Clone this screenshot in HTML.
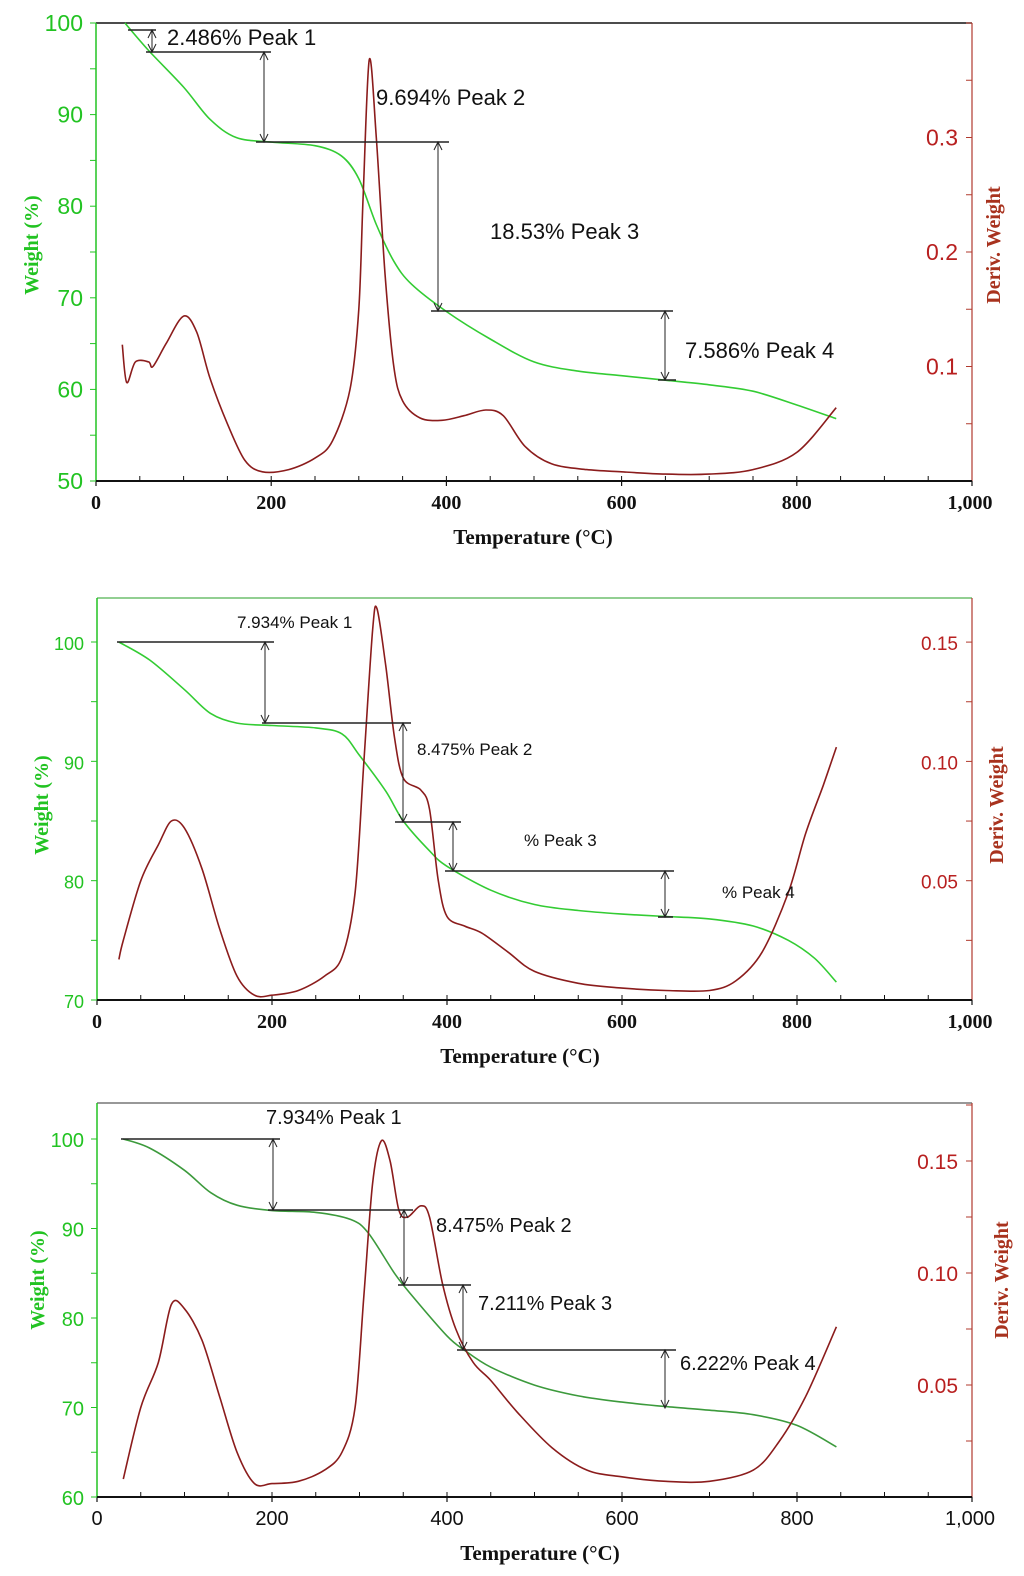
<!DOCTYPE html>
<html><head><meta charset="utf-8"><style>
html,body{margin:0;padding:0;background:#fff;}
svg{display:block;}
</style></head><body>
<svg id="fig" width="1024" height="1576" viewBox="0 0 1024 1576" xmlns="http://www.w3.org/2000/svg"></svg>
<script>
// ---------- Chart 1 data ----------
const c1TempW = [33,60,100,130,160,200,250,280,300,320,340,360,400,450,500,550,600,650,700,750,800,845];
const c1Weight = [100,97,93,89.5,87.5,87,86.6,85.5,83,78,74,71.5,68.5,65.5,63,62,61.5,61,60.5,59.8,58.3,56.8];
const c1TempD = [30,35,45,60,65,80,100,115,130,150,170,190,220,250,270,290,300,305,312,320,330,340,350,370,395,420,445,465,490,520,560,600,650,700,750,800,845];
const c1Deriv = [0.119,0.086,0.104,0.104,0.1,0.12,0.144,0.13,0.09,0.05,0.018,0.008,0.01,0.02,0.035,0.08,0.15,0.25,0.368,0.3,0.18,0.1,0.07,0.055,0.053,0.057,0.062,0.057,0.03,0.015,0.01,0.008,0.006,0.006,0.01,0.025,0.064];
const c1LeftTicks = [50,60,70,80,90,100];
const c1RightTicks = [0.1,0.2,0.3];
const c1RightLabels = ["0.1","0.2","0.3"];
// ---------- Chart 2 data ----------
const c2TempW = [25,60,100,130,160,200,250,280,300,330,350,380,400,450,500,550,600,650,700,750,790,820,845];
const c2Weight = [100,98.5,96,94,93.2,93,92.8,92.3,90.5,87.5,85,82.5,81.2,79.2,78,77.5,77.2,77,76.8,76.2,75,73.5,71.5];
const c2TempD = [25,30,50,70,85,100,120,140,160,180,200,230,260,280,295,305,315,320,330,340,350,370,380,390,400,420,440,470,500,550,600,650,700,730,760,790,810,830,845];
const c2Deriv = [0.017,0.025,0.05,0.065,0.075,0.072,0.055,0.03,0.01,0.002,0.002,0.004,0.01,0.018,0.045,0.1,0.155,0.164,0.14,0.11,0.093,0.088,0.08,0.05,0.035,0.031,0.028,0.02,0.012,0.007,0.005,0.004,0.004,0.008,0.02,0.045,0.07,0.09,0.106];
const c2LeftTicks = [70,80,90,100];
const c2RightTicks = [0.05,0.10,0.15];
const c2RightLabels = ["0.05","0.10","0.15"];
// ---------- Chart 3 data ----------
const c3TempW = [30,60,100,130,160,200,250,290,310,340,360,400,420,450,500,550,600,650,700,750,800,845];
const c3Weight = [100,99,96.5,94,92.6,92,91.8,91,89.5,85,82.5,78,76.4,74.5,72.5,71.3,70.6,70.1,69.7,69.2,68,65.6];
const c3TempD = [30,50,70,85,100,120,140,160,180,200,230,260,280,295,305,315,325,335,345,355,370,380,395,410,430,450,480,520,560,600,650,700,750,780,810,845];
const c3Deriv = [0.008,0.04,0.06,0.086,0.084,0.07,0.045,0.02,0.006,0.006,0.007,0.012,0.02,0.04,0.09,0.14,0.159,0.15,0.128,0.125,0.13,0.125,0.095,0.075,0.06,0.052,0.038,0.022,0.012,0.009,0.007,0.007,0.012,0.025,0.045,0.076];
const c3LeftTicks = [60,70,80,90,100];
const c3RightTicks = [0.05,0.10,0.15];
const c3RightLabels = ["0.05","0.10","0.15"];
const xTicks = [0,200,400,600,800,1000];
const xTickLabels = ["0","200","400","600","800","1,000"];

const NS = "http://www.w3.org/2000/svg";
const svg = document.getElementById('fig');
function el(tag, attrs, parent, text){
  const e = document.createElementNS(NS, tag);
  for (const k in attrs) e.setAttribute(k, attrs[k]);
  if (text !== undefined) e.textContent = text;
  (parent || svg).appendChild(e);
  return e;
}
function smooth(pts){
  let d = `M${pts[0][0].toFixed(1)},${pts[0][1].toFixed(1)}`;
  for (let i=0;i<pts.length-1;i++){
    const p0 = pts[i-1]||pts[i], p1 = pts[i], p2 = pts[i+1], p3 = pts[i+2]||p2;
    const t = 0.16;
    const c1x = p1[0]+(p2[0]-p0[0])*t, c1y = p1[1]+(p2[1]-p0[1])*t;
    const c2x = p2[0]-(p3[0]-p1[0])*t, c2y = p2[1]-(p3[1]-p1[1])*t;
    d += ` C${c1x.toFixed(1)},${c1y.toFixed(1)} ${c2x.toFixed(1)},${c2y.toFixed(1)} ${p2[0].toFixed(1)},${p2[1].toFixed(1)}`;
  }
  return d;
}

function chart(cfg){
  const g = el('g', {});
  
  
  const xs = t => cfg.x0 + (t/1000)*(cfg.x1 - cfg.x0);
  const yl = v => cfg.yb + (v - cfg.lmin)/(cfg.lmax - cfg.lmin)*(cfg.yt100 - cfg.yb);
  const yr = v => cfg.yb - v*cfg.rScale;
  const top = el('line', {x1:cfg.x0, y1:cfg.top, x2:cfg.x1, y2:cfg.top, stroke:cfg.topColor, 'stroke-width':1.5}, g);
  
  
  const la = el('line', {x1:cfg.x0, y1:cfg.top, x2:cfg.x0, y2:cfg.yb, stroke:'#22c322', 'stroke-width':1.5}, g);
  
  
  const ra = el('line', {x1:cfg.x1, y1:cfg.top, x2:cfg.x1, y2:cfg.yb, stroke:'#b03a2e', 'stroke-width':1.2}, g);
  
  
  const xa = el('line', {x1:cfg.x0, y1:cfg.yb, x2:cfg.x1, y2:cfg.yb, stroke:'#111', 'stroke-width':2}, g);
  
  
  for (let t=50; t<1000; t+=50){
    el('line', {x1:xs(t), y1:cfg.yb, x2:xs(t), y2:cfg.yb-5, stroke:'#111', 'stroke-width':1}, g);
  }
  xTicks.forEach((t,i)=>{
    el('line', {x1:xs(t), y1:cfg.yb, x2:xs(t), y2:cfg.yb+5, stroke:'#111', 'stroke-width':1.2}, g);
    const tx = el('text', {x:xs(t)+(i===5?-2:0), y:cfg.yb+28, 'text-anchor':'middle', 'font-family':cfg.xFont, 'font-weight':cfg.xWeight, 'font-size':20, fill:'#111'}, g, xTickLabels[i]);
    
    
  });
  const step = cfg.leftTicks[1]-cfg.leftTicks[0];
  for (let v=cfg.lmin; v<=cfg.lmax+0.01; v+=step/2){
    el('line', {x1:cfg.x0, y1:yl(v), x2:cfg.x0-6, y2:yl(v), stroke:'#22c322', 'stroke-width':1}, g);
  }
  cfg.leftTicks.forEach(v=>{
    const tx = el('text', {x:cfg.x0-13, y:yl(v)+8, 'text-anchor':'end', 'font-family':'"Liberation Sans", sans-serif', 'font-size':cfg.lfs, fill:'#22c322'}, g, String(v));
    
    
  });
  const rs = cfg.rightTicks[1]-cfg.rightTicks[0];
  for (let v=rs/2; yr(v)>cfg.top; v+=rs/2){
    el('line', {x1:cfg.x1, y1:yr(v), x2:cfg.x1-6, y2:yr(v), stroke:'#b03a2e', 'stroke-width':1}, g);
  }
  cfg.rightTicks.forEach((v,i)=>{
    const tx = el('text', {x:cfg.x1-14, y:yr(v)+8, 'text-anchor':'end', 'font-family':'"Liberation Sans", sans-serif', 'font-size':cfg.rfs, fill:'#b82020'}, g, cfg.rightLabels[i]);
    
    
  });
  const lt = el('text', {x:0, y:0, transform:`translate(${cfg.ltx},${cfg.titleY}) rotate(-90)`, 'text-anchor':'middle', 'font-family':'"Liberation Serif", serif', 'font-weight':'bold', 'font-size':20, fill:'#22c322'}, g, 'Weight (%)');
  
  
  const rt = el('text', {x:0, y:0, transform:`translate(${cfg.rtx},${cfg.titleY}) rotate(-90)`, 'text-anchor':'middle', 'font-family':'"Liberation Serif", serif', 'font-weight':'bold', 'font-size':20, fill:'#a8321e'}, g, 'Deriv. Weight');
  
  
  const xt = el('text', {x:cfg.xtX, y:cfg.yb+63, 'text-anchor':'middle', 'font-family':'"Liberation Serif", serif', 'font-weight':'bold', 'font-size':21, fill:'#111'}, g, 'Temperature (°C)');
  
  
  const wpts = cfg.tw.map((t,i)=>[xs(t), yl(cfg.w[i])]);
  const wl = el('path', {d:smooth(wpts), fill:'none', stroke:cfg.wColor, 'stroke-width':1.6, 'stroke-linejoin':'round'}, g);
  
  
  const dpts = cfg.td.map((t,i)=>[xs(t), yr(cfg.d[i])]);
  const dl = el('path', {d:smooth(dpts), fill:'none', stroke:'#8b1c1c', 'stroke-width':1.6, 'stroke-linejoin':'round'}, g);
  
  
  cfg.hl.forEach(h=>{
    const l = el('line', {x1:h[1], y1:h[0], x2:h[2], y2:h[0], stroke:'#222', 'stroke-width':1.6}, g);
    
    
  });
  cfg.vl.forEach(v=>{
    const l = el('line', {x1:v[0], y1:v[1], x2:v[0], y2:v[2], stroke:'#222', 'stroke-width':1}, g);
    
    
    el('polyline', {points:`${v[0]-4},${v[1]+8} ${v[0]},${v[1]} ${v[0]+4},${v[1]+8}`, fill:'none', stroke:'#222', 'stroke-width':1}, g);
    el('polyline', {points:`${v[0]-4},${v[2]-8} ${v[0]},${v[2]} ${v[0]+4},${v[2]-8}`, fill:'none', stroke:'#222', 'stroke-width':1}, g);
  });
  cfg.labels.forEach(a=>{
    const t = el('text', {x:a[0], y:a[1], 'font-family':'"Liberation Sans", sans-serif', 'font-size':cfg.afs, fill:'#111'}, g, a[2]);
    
    
  });
}

chart({name:'chart-sample-1', x0:96, x1:972, top:23, yb:481, yt100:23, lmin:50, lmax:100, rScale:1145,
  topColor:'#111', wColor:'#33cc33', xFont:'"Liberation Serif", serif', xWeight:'bold', lfs:23, rfs:23, afs:22,
  leftTicks:c1LeftTicks, rightTicks:c1RightTicks, rightLabels:c1RightLabels,
  ltx:38, rtx:1000, titleY:245, xtX:533,
  tw:c1TempW, w:c1Weight, td:c1TempD, d:c1Deriv,
  hl:[[30,128,156],[52,146,271],[142,256,449],[311,431,673],[380,658,676]],
  vl:[[152,30,52],[264,52,142],[438,142,311],[665,311,380]],
  labels:[[167,45,'2.486% Peak 1'],[376,105,'9.694% Peak 2'],[490,239,'18.53% Peak 3'],[685,358,'7.586% Peak 4']]});

chart({name:'chart-sample-2', x0:97, x1:972, top:598, yb:1000, yt100:642, lmin:70, lmax:100, rScale:2386,
  topColor:'#6fbf6f', wColor:'#33cc33', xFont:'"Liberation Serif", serif', xWeight:'bold', lfs:18, rfs:19, afs:17,
  leftTicks:c2LeftTicks, rightTicks:c2RightTicks, rightLabels:c2RightLabels,
  ltx:48, rtx:1003, titleY:805, xtX:520,
  tw:c2TempW, w:c2Weight, td:c2TempD, d:c2Deriv,
  hl:[[642,117,274],[723,262,411],[822,395,461],[871,445,674],[917,658,673]],
  vl:[[265,642,723],[403,723,822],[453,822,871],[665,871,917]],
  labels:[[237,628,'7.934% Peak 1'],[417,755,'8.475% Peak 2'],[524,846,'% Peak 3'],[722,898,'% Peak 4']]});

chart({name:'chart-sample-3', x0:97, x1:972, top:1103, yb:1497, yt100:1139, lmin:60, lmax:100, rScale:2240,
  topColor:'#777', wColor:'#3c9a3c', xFont:'"Liberation Sans", sans-serif', xWeight:'normal', lfs:20, rfs:21, afs:20,
  leftTicks:c3LeftTicks, rightTicks:c3RightTicks, rightLabels:c3RightLabels,
  ltx:44, rtx:1008, titleY:1280, xtX:540,
  tw:c3TempW, w:c3Weight, td:c3TempD, d:c3Deriv,
  hl:[[1139,121,280],[1210,268,413],[1285,398,471],[1350,457,676]],
  vl:[[273,1139,1210],[404,1210,1285],[463,1285,1350],[665,1350,1408]],
  labels:[[266,1124,'7.934% Peak 1'],[436,1232,'8.475% Peak 2'],[478,1310,'7.211% Peak 3'],[680,1370,'6.222% Peak 4']]});
</script>
</body></html>
